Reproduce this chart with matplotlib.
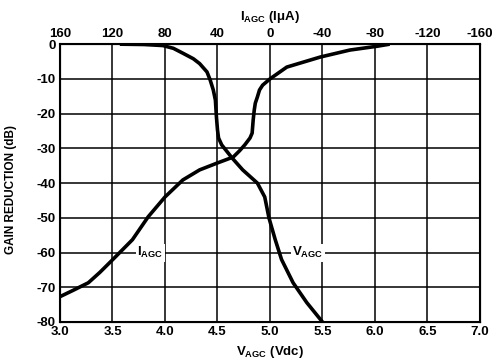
import matplotlib
matplotlib.use('Agg')
import matplotlib.pyplot as plt

plt.rcParams['font.family'] = ['Liberation Sans', 'DejaVu Sans']
plt.rcParams['font.weight'] = 'bold'
plt.rcParams['axes.labelweight'] = 'bold'
plt.rcParams['axes.unicode_minus'] = False
plt.rcParams['mathtext.fontset'] = 'custom'
plt.rcParams['mathtext.rm'] = 'Liberation Sans:bold'
plt.rcParams['mathtext.it'] = 'Liberation Sans:bold'
plt.rcParams['mathtext.bf'] = 'Liberation Sans:bold'

# VAGC curve: gain reduction vs control voltage (Vdc)
v_volts = [3.57, 3.80, 3.98, 4.08, 4.17, 4.27, 4.33, 4.40, 4.43, 4.46, 4.48,
           4.49, 4.50, 4.51, 4.54, 4.64, 4.74, 4.88, 4.95, 4.99, 5.05, 5.11,
           5.22, 5.35, 5.50]
v_gain = [0.0, -0.1, -0.4, -1.2, -2.6, -4.2, -5.6, -8.0, -10.3, -13.2, -16.1,
          -21.0, -24.7, -27.0, -29.0, -32.8, -36.2, -40.0, -44.0, -50.0, -56.3,
          -62.0, -68.7, -74.4, -80.0]

# IAGC curve: gain reduction vs control current (uA), top axis
i_ua = [160, 150.1, 138.4, 129.6, 120, 104.8, 92.8, 80, 66.4, 53.6, 40, 28,
        23.2, 19.2, 15.2, 13.6, 12.8, 12.0, 11.2, 9.6, 8, 5.6, 0, -12.8, -38.4,
        -60.8, -81.6, -91.2]
i_gain = [-72.7, -70.9, -68.7, -65.7, -62.1, -56.3, -49.7, -44.0, -39.1, -36.2,
          -34.2, -32.5, -30.7, -29.0, -27.0, -25.6, -21.8, -19.0, -17.0, -15.2,
          -13.2, -11.8, -10.0, -6.6, -3.7, -1.7, -0.6, 0.0]

v_ticks = [3.0, 3.5, 4.0, 4.5, 5.0, 5.5, 6.0, 6.5, 7.0]
i_ticks = [160, 120, 80, 40, 0, -40, -80, -120, -160]
db_ticks = [0, -10, -20, -30, -40, -50, -60, -70, -80]

fig = plt.figure(figsize=(4.93, 3.62), dpi=100)
ax = fig.add_axes([0.1217, 0.1105, 0.8519, 0.7675])

ax.set_xlim(3.0, 7.0)
ax.set_ylim(-80, 0)
ax.set_xticks(v_ticks)
ax.set_xticklabels(['%.1f' % v for v in v_ticks])
ax.set_yticks(db_ticks)
ax.grid(True, color='black', linewidth=1.1)
ax.tick_params(length=0, pad=3, labelsize=9.5)
for s in ax.spines.values():
    s.set_linewidth(1.5)

ax.plot(v_volts, v_gain, color='black', linewidth=2.6,
        solid_capstyle='butt', solid_joinstyle='round')

ax2 = ax.twiny()
ax2.set_xlim(160, -160)
ax2.set_xticks(i_ticks)
ax2.tick_params(length=0, pad=3, labelsize=9.5)
ax2.plot(i_ua, i_gain, color='black', linewidth=2.6,
         solid_capstyle='butt', solid_joinstyle='round')

ax.text(3.86, -60, r'$\mathrm{I_{AGC}}$', ha='center', va='center', fontsize=9.5,
        bbox=dict(facecolor='white', edgecolor='none', pad=1))
ax.text(5.36, -60, r'$\mathrm{V_{AGC}}$', ha='center', va='center', fontsize=9.5,
        bbox=dict(facecolor='white', edgecolor='none', pad=1))

ax.set_xlabel(r'$\mathrm{V_{AGC}}$ (Vdc)', fontsize=9.5, labelpad=4)
ax2.set_xlabel(r'$\mathrm{I_{AGC}}$ (IμA)', fontsize=9.5, labelpad=6)
ax.set_ylabel('GAIN REDUCTION (dB)', fontsize=8.5)
ax.yaxis.set_label_coords(-0.102, 0.478)

fig.savefig('out.png', dpi=100)
